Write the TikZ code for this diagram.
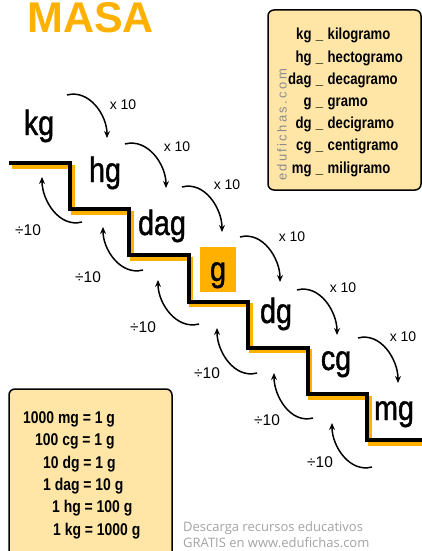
\documentclass[tikz,border=0pt]{standalone}
\usepackage{fontspec}
\setmainfont{Liberation Sans}
\newfontfamily\estrecha[FakeStretch=0.82]{Liberation Sans}
\newfontfamily\gruesa[FakeStretch=0.82, FakeBold=1.2]{Liberation Sans}
\newfontfamily\espaciada[LetterSpace=18]{Liberation Sans}
\newfontfamily\pie{Open Sans}
\usetikzlibrary{arrows.meta}
\definecolor{naranja}{HTML}{FFB000}
\definecolor{crema}{HTML}{FFE6A6}
\definecolor{gris}{HTML}{8C8C8C}
\definecolor{grisclaro}{HTML}{A3A3A3}
\tikzset{
  unidad/.style={anchor=base, inner sep=0pt, font=\gruesa\fontsize{35}{35}\selectfont},
  factor/.style={inner sep=0pt, font=\fontsize{14}{14}\selectfont},
  divisor/.style={inner sep=0pt, font=\fontsize{15.5}{15.5}\selectfont},
  por/.style={-{Stealth[length=7pt,width=6pt]}, line width=1.5pt, out=15, in=90},
  entre/.style={-{Stealth[length=7pt,width=6pt]}, line width=1.5pt, out=195, in=-90},
  escalon/.style={line width=4pt, preaction={draw=naranja, line width=4pt,
      transform canvas={xshift=2.5pt, yshift=-3.5pt}}},
  caja/.style={draw, line width=1.5pt, fill=crema, rounded corners=6pt},
  igualdad/.style={anchor=base west, inner sep=0pt, font=\estrecha\bfseries\fontsize{17}{17}\selectfont}
}

\begin{document}
\begin{tikzpicture}[x=1pt, y=-1pt]
  \useasboundingbox (0,0) rectangle (422,551);
  \node[anchor=base west, inner sep=0pt, text=naranja,
    font=\bfseries\fontsize{43}{43}\selectfont] (titulo) at (27,33) {MASA};

  \draw[caja] (268,10) rectangle (421,190);
  \node[anchor=base west, inner sep=0pt, font=\estrecha\bfseries\fontsize{16}{22.2}\selectfont]
    (leyenda) at (288,40) {\begin{tabular}[t]{@{}r@{\;\_\;}l@{}}
      kg & kilogramo\\
      hg & hectogramo\\
      dag & decagramo\\
      g & gramo\\
      dg & decigramo\\
      cg & centigramo\\
      mg & miligramo
    \end{tabular}};
  \node[rotate=90, inner sep=0pt, text=gris, font=\espaciada\fontsize{13}{13}\selectfont]
    (web) at (282,125) {edufichas.com};

  \draw[escalon] (9,163) -| (70,209.2) -| (129.4,255.4) -| (188.8,301.6)
    -| (248.2,347.8) -| (307.6,394) -| (367,440.2) -- (422,440.2);

  \fill[naranja] (200,247) rectangle (236,292);
  \node[unidad] (kg) at (39,135) {kg};
  \node[unidad] (hg) at (105,182) {hg};
  \node[unidad] (dag) at (162,235) {dag};
  \node[unidad] (g) at (218,281) {g};
  \node[unidad] (dg) at (276,323) {dg};
  \node[unidad] (cg) at (336,370) {cg};
  \node[unidad] (mg) at (394,420) {mg};

  \path (67,95) coordinate (m1a) (107,138) coordinate (m1b);
  \path (125,144) coordinate (m2a) (166,188) coordinate (m2b);
  \path (182,187) coordinate (m3a) (222,232) coordinate (m3b);
  \path (240,237) coordinate (m4a) (280,282) coordinate (m4b);
  \path (297,290) coordinate (m5a) (337,335) coordinate (m5b);
  \path (358,338) coordinate (m6a) (398,383) coordinate (m6b);
  \draw[por] (m1a) to (m1b);
  \draw[por] (m2a) to (m2b);
  \draw[por] (m3a) to (m3b);
  \draw[por] (m4a) to (m4b);
  \draw[por] (m5a) to (m5b);
  \draw[por] (m6a) to (m6b);
  \node[factor] (x1) at (123,105) {x 10};
  \node[factor] (x2) at (177,147) {x 10};
  \node[factor] (x3) at (227,185) {x 10};
  \node[factor] (x4) at (292,237) {x 10};
  \node[factor] (x5) at (343,288) {x 10};
  \node[factor] (x6) at (403,337) {x 10};

  \path (82,222) coordinate (d1a) (42,177) coordinate (d1b);
  \path (143,270) coordinate (d2a) (103,227) coordinate (d2b);
  \path (199,324) coordinate (d3a) (158,280) coordinate (d3b);
  \path (257,373) coordinate (d4a) (217,328) coordinate (d4b);
  \path (313,418) coordinate (d5a) (274,373) coordinate (d5b);
  \path (372,467) coordinate (d6a) (332,423) coordinate (d6b);
  \draw[entre] (d1a) to (d1b);
  \draw[entre] (d2a) to (d2b);
  \draw[entre] (d3a) to (d3b);
  \draw[entre] (d4a) to (d4b);
  \draw[entre] (d5a) to (d5b);
  \draw[entre] (d6a) to (d6b);
  \node[divisor] (e1) at (28,230) {÷10};
  \node[divisor] (e2) at (88,277) {÷10};
  \node[divisor] (e3) at (143,327) {÷10};
  \node[divisor] (e4) at (207,373) {÷10};
  \node[divisor] (e5) at (267,420) {÷10};
  \node[divisor] (e6) at (320,462) {÷10};

  \draw[caja] (9,389) rectangle (172,580);
  \node[igualdad] (f1) at (23,423) {1000 mg = 1 g};
  \node[igualdad] (f2) at (35,445.5) {100 cg = 1 g};
  \node[igualdad] (f3) at (43,468) {10 dg = 1 g};
  \node[igualdad] (f4) at (43,490) {1 dag = 10 g};
  \node[igualdad] (f5) at (52,512.5) {1 hg = 100 g};
  \node[igualdad] (f6) at (53,535) {1 kg = 1000 g};

  \node[anchor=base west, inner sep=0pt, text=grisclaro, font=\pie\fontsize{13}{13}\selectfont]
    (pie1) at (183,531) {Descarga recursos educativos};
  \node[anchor=base west, inner sep=0pt, text=grisclaro, font=\pie\fontsize{13}{13}\selectfont]
    (pie2) at (183,547) {GRATIS en www.edufichas.com};
\end{tikzpicture}
\end{document}
